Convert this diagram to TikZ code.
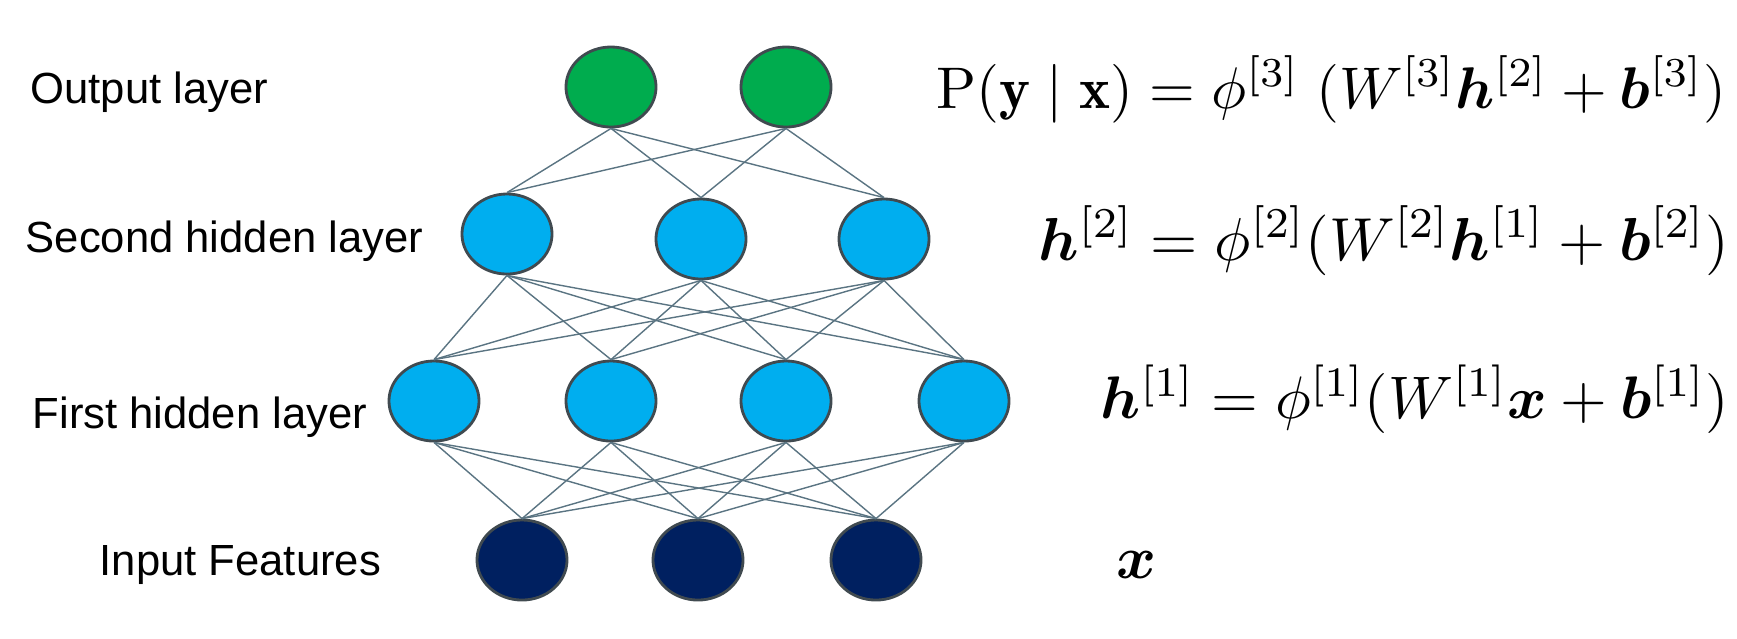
\documentclass[tikz,border=0pt]{standalone}
\usepackage{fontspec}
\usepackage{amsmath}
\usepackage{bm}
\usepackage{graphicx}
\newfontfamily\arialfont{Liberation Sans}
\usetikzlibrary{shapes.geometric}
\definecolor{outgreen}{HTML}{00AC4E}
\definecolor{hidblue}{HTML}{00AEEF}
\definecolor{innavy}{HTML}{002060}
\definecolor{nodeborder}{HTML}{404A50}
\definecolor{edgecol}{HTML}{5A7482}
\begin{document}
\begin{tikzpicture}[x=0.01cm,y=-0.01cm,
  neuron/.style={ellipse, draw=nodeborder, line width=0.8pt, minimum width=0.9cm, minimum height=0.8cm, inner sep=0pt},
  outn/.style={neuron, fill=outgreen},
  hidn/.style={neuron, fill=hidblue},
  inn/.style={neuron, fill=innavy},
  conn/.style={draw=edgecol, line width=0.4pt},
  lbl/.style={anchor=base west, inner sep=0pt, font=\arialfont\fontsize{12.4}{15}\selectfont},
  eqn/.style={anchor=base west, inner sep=0pt}]
\useasboundingbox (0,0) rectangle (1737,638);
% nodes
\node[outn] (o1) at (611,87) {};
\node[outn] (o2) at (786,87) {};
\node[hidn] (s1) at (507,234) {};
\node[hidn] (s2) at (701,239) {};
\node[hidn] (s3) at (884,239) {};
\node[hidn] (f1) at (434,401) {};
\node[hidn] (f2) at (611,401) {};
\node[hidn] (f3) at (786,401) {};
\node[hidn] (f4) at (964,401) {};
\node[inn] (i1) at (522,560) {};
\node[inn] (i2) at (698,560) {};
\node[inn] (i3) at (876,560) {};
% connectors
\foreach \a in {o1,o2} \foreach \b in {s1,s2,s3} \draw[conn] (\a.south) -- (\b.north);
\foreach \a in {s1,s2,s3} \foreach \b in {f1,f2,f3,f4} \draw[conn] (\a.south) -- (\b.north);
\foreach \a in {f1,f2,f3,f4} \foreach \b in {i1,i2,i3} \draw[conn] (\a.south) -- (\b.north);
% labels
\node[lbl] (lo) at (30,103) {Output layer};
\node[lbl] (ls) at (25,252) {Second hidden layer};
\node[lbl] (lf) at (32,428) {First hidden layer};
\node[lbl] (li) at (99,575) {Input Features};
% equations
\node[eqn] (e3) at (936,108) {\resizebox{7.89cm}{!}{$\mathrm{P}(\mathbf{y}\mid\mathbf{x}) = \phi^{[3]}\;(W^{[3]}\bm{h}^{[2]}+\bm{b}^{[3]})$}};
\node[eqn] (e2) at (1038,260) {\resizebox{6.9cm}{!}{$\bm{h}^{[2]} = \phi^{[2]}(W^{[2]}\bm{h}^{[1]}+\bm{b}^{[2]})$}};
\node[eqn] (e1) at (1100,418) {\resizebox{6.28cm}{!}{$\bm{h}^{[1]} = \phi^{[1]}(W^{[1]}\bm{x}+\bm{b}^{[1]})$}};
\node[eqn] (ex) at (1116,578) {\fontsize{18}{20}\selectfont$\bm{x}$};
\end{tikzpicture}
\end{document}
